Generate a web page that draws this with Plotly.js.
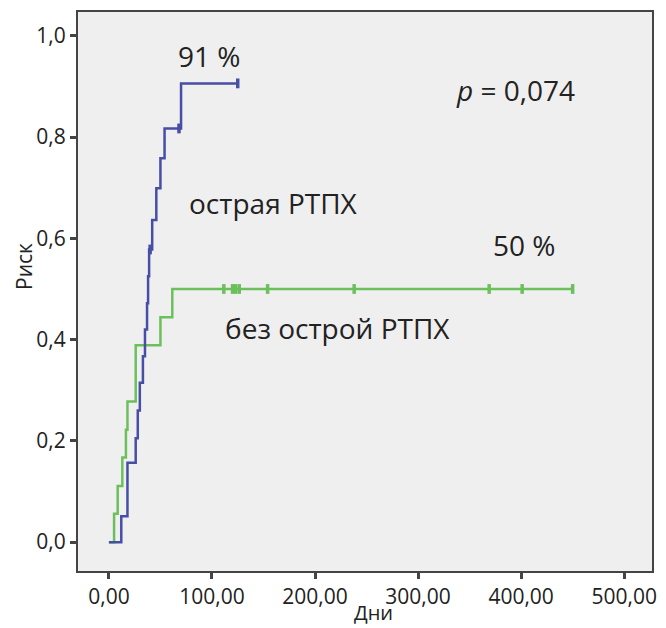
<!DOCTYPE html>
<html>
<head>
<meta charset="utf-8">
<script src="https://cdn.plot.ly/plotly-3.0.1.min.js"></script>
<style>html,body{margin:0;padding:0;background:#fff;}#chart{width:666px;height:628px;}</style>
</head>
<body>
<div id="chart"></div>
<script>
// Acute GVHD (острая РТПХ) cumulative risk steps
const acuteDays = [0, 12, 18, 26, 28, 30, 33, 35, 37, 38, 39, 42, 46, 50, 54, 70, 125];
const acuteRisk = [0, 0.051, 0.157, 0.205, 0.26, 0.315, 0.367, 0.42, 0.472, 0.525, 0.578, 0.636, 0.699, 0.758, 0.817, 0.906, 0.906];
const acuteCensorDays = [40, 68, 125];
const acuteCensorRisk = [0.578, 0.817, 0.906];

// No acute GVHD (без острой РТПХ)
const noAcuteDays = [0, 5, 8.5, 13, 16.5, 18, 26, 50, 61.5, 450];
const noAcuteRisk = [0, 0.056, 0.111, 0.167, 0.222, 0.278, 0.389, 0.444, 0.5, 0.5];
const noAcuteCensorDays = [111.5, 120, 123, 126.5, 154, 238, 369, 401, 450];
const noAcuteCensorRisk = [0.5, 0.5, 0.5, 0.5, 0.5, 0.5, 0.5, 0.5, 0.5];

const xTicks = [0, 100, 200, 300, 400, 500];
const yTicks = [0, 0.2, 0.4, 0.6, 0.8, 1.0];

const blue = '#474ea6';
const green = '#6cc05c';
const font = 'Open Sans, Noto Sans, sans-serif';

const traces = [
  {x: noAcuteDays, y: noAcuteRisk, mode: 'lines', line: {shape: 'hv', color: green, width: 2.5}, hoverinfo: 'skip'},
  {x: noAcuteCensorDays, y: noAcuteCensorRisk, mode: 'markers', marker: {symbol: 'line-ns-open', size: 7, color: green, line: {color: green, width: 3.5}}, hoverinfo: 'skip'},
  {x: acuteDays, y: acuteRisk, mode: 'lines', line: {shape: 'hv', color: blue, width: 2.5}, hoverinfo: 'skip'},
  {x: acuteCensorDays, y: acuteCensorRisk, mode: 'markers', marker: {symbol: 'line-ns-open', size: 7, color: blue, line: {color: blue, width: 3.5}}, hoverinfo: 'skip'}
];

const annFont = {family: font, size: 28, color: '#222'};
const layout = {
  width: 666, height: 628,
  separators: ', ',
  paper_bgcolor: '#ffffff',
  plot_bgcolor: '#efefef',
  showlegend: false,
  margin: {l: 78, r: 14, t: 12, b: 57},
  font: {family: font, color: '#222'},
  xaxis: {
    range: [-30, 527], tickvals: xTicks, tickformat: '.2f',
    showgrid: false, zeroline: false,
    showline: true, mirror: true, linecolor: '#444', linewidth: 2,
    ticks: 'outside', ticklen: 6, tickwidth: 3, tickcolor: '#444',
    tickfont: {family: font, size: 21, color: '#222'}
  },
  yaxis: {
    range: [-0.057, 1.047], tickvals: yTicks, tickformat: '.1f',
    showgrid: false, zeroline: false,
    showline: true, mirror: true, linecolor: '#444', linewidth: 2,
    ticks: 'outside', ticklen: 6, tickwidth: 3, tickcolor: '#444',
    tickfont: {family: font, size: 21, color: '#222'}
  },
  annotations: [
    {x: 97, y: 0.961, text: '91 %', showarrow: false, font: annFont},
    {x: 395, y: 0.892, text: '<i>p</i> = 0,074', showarrow: false, font: annFont},
    {x: 160, y: 0.669, text: 'острая РТПХ', showarrow: false, font: annFont},
    {x: 403, y: 0.587, text: '50 %', showarrow: false, font: annFont},
    {x: 222, y: 0.423, text: 'без острой РТПХ', showarrow: false, font: annFont},
    {xref: 'paper', yref: 'paper', x: 0.514, y: -0.075, yanchor: 'middle', xanchor: 'center', text: 'Дни', showarrow: false, font: {family: font, size: 20, color: '#222'}},
    {xref: 'paper', yref: 'paper', x: -0.093, y: 0.545, textangle: -90, xanchor: 'center', yanchor: 'middle', text: 'Риск', showarrow: false, font: {family: font, size: 21, color: '#222'}}
  ]
};

Plotly.newPlot('chart', traces, layout, {staticPlot: true, displayModeBar: false});
</script>
</body>
</html>
